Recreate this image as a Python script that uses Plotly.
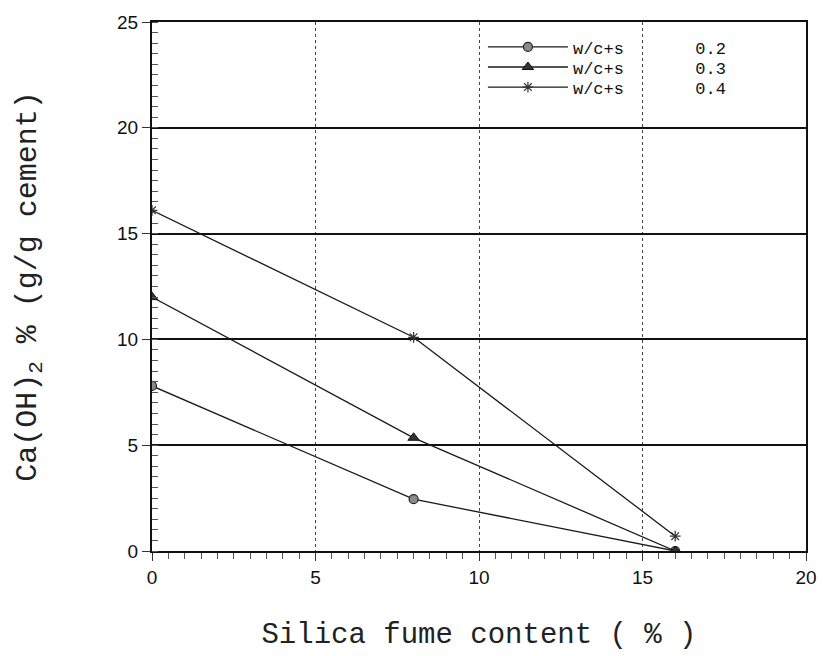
import plotly.graph_objects as go

silica = [0, 8, 16]
ch_02 = [7.8, 2.45, 0.0]
ch_03 = [12.0, 5.35, 0.0]
ch_04 = [16.1, 10.1, 0.7]
series_names = ["w/c+s       0.2", "w/c+s       0.3", "w/c+s       0.4"]
x_ticks = [0, 5, 10, 15, 20]
y_ticks = [0, 5, 10, 15, 20, 25]

fig = go.Figure()
styles = [
    dict(symbol="circle", color="#8a8a8a", size=9, line=dict(color="#222", width=1.2)),
    dict(symbol="triangle-up", color="#333", size=10, line=dict(color="#111", width=1)),
    dict(symbol="asterisk-open", color="#333", size=9, line=dict(color="#333", width=1.2)),
]
legend_ids = ["legend", "legend2", "legend3"]
for name, vals, st, lid in zip(series_names, [ch_02, ch_03, ch_04], styles, legend_ids):
    fig.add_trace(go.Scatter(
        x=silica, y=vals, mode="lines+markers", name=name, legend=lid,
        line=dict(color="#1a1a1a", width=1.3),
        marker=st,
    ))

H = 656
def legend_cfg(center_px):
    return dict(x=0.506, y=1 - (center_px - 15) / 541, xanchor="left", yanchor="middle",
                bgcolor="rgba(0,0,0,0)", borderwidth=0,
                font=dict(family="Liberation Mono", size=17, color="#111"),
                itemwidth=80, tracegroupgap=0)

fig.update_layout(
    width=829, height=H,
    margin=dict(l=152, r=15, t=15, b=100),
    paper_bgcolor="white", plot_bgcolor="white",
    showlegend=True,
    legend=legend_cfg(41),
    legend2=legend_cfg(61.5),
    legend3=legend_cfg(82),
    font=dict(family="Liberation Sans", color="#111"),
)
fig.update_xaxes(
    range=[0, 20], tickvals=x_ticks, ticktext=[str(t) for t in x_ticks],
    showline=True, linecolor="#111", linewidth=2, mirror=True,
    showgrid=True, gridcolor="#444", gridwidth=1, griddash="dot",
    zeroline=False,
    ticks="outside", ticklen=8, tickcolor="#333", tickwidth=1,
    minor=dict(dtick=0.5, ticks="outside", ticklen=6, tickcolor="#555", showgrid=False),
    tickfont=dict(family="Liberation Sans", size=19, color="#111"),
    title=dict(text="Silica fume content ( % )", font=dict(family="Liberation Mono", size=29, color="#222"), standoff=36),
)
fig.update_yaxes(
    range=[0, 25], tickvals=y_ticks, ticktext=[str(t) for t in y_ticks],
    showline=True, linecolor="#111", linewidth=2, mirror=True,
    showgrid=True, gridcolor="#111", gridwidth=2,
    zeroline=False,
    ticks="outside", ticklen=8, tickcolor="#333", tickwidth=1,
    minor=dict(dtick=0.5, ticks="inside", ticklen=6, tickcolor="#555", showgrid=False),
    tickfont=dict(family="Liberation Sans", size=19, color="#111"),
    title=dict(text="Ca(OH)<sub>2</sub> % (g/g cement)", font=dict(family="Liberation Mono", size=30, color="#222"), standoff=72),
)

fig.write_html("out.html")
